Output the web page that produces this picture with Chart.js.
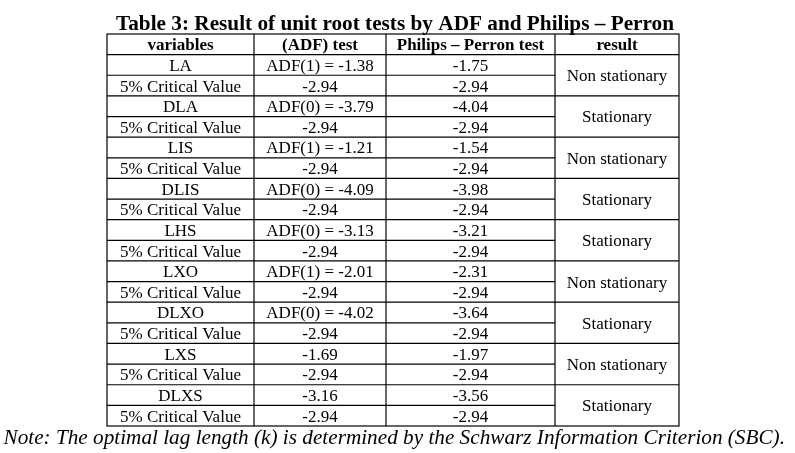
<!DOCTYPE html>
<html>
<head>
<meta charset="utf-8">
<script src="https://cdn.jsdelivr.net/npm/chart.js@4"></script>
<style>
  html, body { margin: 0; padding: 0; background: #fff; }
  canvas { display: block; }
</style>
</head>
<body>
<canvas id="unitRootChart" width="795" height="453"></canvas>
<script>
/**
 * Table 3 - unit root tests (ADF and Philips-Perron), drawn as a chart
 */

// table data
const headers = ['variables', '(ADF) test', 'Philips \u2013 Perron test', 'result'];
const variables = ['LA', 'DLA', 'LIS', 'DLIS', 'LHS', 'LXO', 'DLXO', 'LXS', 'DLXS'];
const adfLags = [1, 0, 1, 0, 0, 1, 0, null, null];
const adfValues = [-1.38, -3.79, -1.21, -4.09, -3.13, -2.01, -4.02, -1.69, -3.16];
const ppValues = [-1.75, -4.04, -1.54, -3.98, -3.21, -2.31, -3.64, -1.97, -3.56];
const criticalAdf = [-2.94, -2.94, -2.94, -2.94, -2.94, -2.94, -2.94, -2.94, -2.94];
const criticalPp = [-2.94, -2.94, -2.94, -2.94, -2.94, -2.94, -2.94, -2.94, -2.94];
const results = ['Non stationary', 'Stationary', 'Non stationary', 'Stationary', 'Stationary',
                 'Non stationary', 'Stationary', 'Non stationary', 'Stationary'];
const criticalLabel = '5% Critical Value';
const titleText = 'Table 3: Result of unit root tests by ADF and Philips \u2013 Perron';
const noteText = 'Note: The optimal lag length (k) is determined by the Schwarz Information Criterion (SBC).';

// layout (column edges in table units, rows are 1 unit each)
const colEdges = [0, 147, 279, 448, 572];
const rowCount = 1 + variables.length * 2;
const serif = '"Liberation Serif", "Times New Roman", serif';

function fmt(v) {
  return v.toFixed(2);
}

function adfText(i) {
  if (adfLags[i] === null) return fmt(adfValues[i]);
  return 'ADF(' + adfLags[i] + ') = ' + fmt(adfValues[i]);
}

// build the rows: [col0, col1, col2]
function buildRows() {
  const rows = [];
  variables.forEach(function (v, i) {
    rows.push([v, adfText(i), fmt(ppValues[i])]);
    rows.push([criticalLabel, fmt(criticalAdf[i]), fmt(criticalPp[i])]);
  });
  return rows;
}

function fitFont(ctx, style, text, width) {
  ctx.font = style + ' 20px ' + serif;
  const size = 20 * width / ctx.measureText(text).width;
  return style + ' ' + size.toFixed(2) + 'px ' + serif;
}

const tablePlugin = {
  id: 'tableDraw',
  afterDraw: function (chart) {
    const ctx = chart.ctx;
    const xs = chart.scales.x;
    const ys = chart.scales.y;
    const px = function (v) { return xs.getPixelForValue(v); };
    const py = function (v) { return ys.getPixelForValue(v); };
    const rows = buildRows();

    ctx.save();
    ctx.strokeStyle = '#000';
    ctx.lineWidth = 1.2;

    // outer border
    ctx.strokeRect(px(0), py(0), px(colEdges[4]) - px(0), py(rowCount) - py(0));

    // vertical lines
    for (let c = 1; c < colEdges.length - 1; c++) {
      ctx.beginPath();
      ctx.moveTo(px(colEdges[c]), py(0));
      ctx.lineTo(px(colEdges[c]), py(rowCount));
      ctx.stroke();
    }

    // horizontal lines (result column merges each pair of rows)
    for (let r = 1; r < rowCount; r++) {
      const right = (r % 2 === 1) ? colEdges[4] : colEdges[3];
      ctx.beginPath();
      ctx.moveTo(px(0), py(r));
      ctx.lineTo(px(right), py(r));
      ctx.stroke();
    }

    ctx.fillStyle = '#000';
    ctx.textAlign = 'center';
    ctx.textBaseline = 'middle';

    // header
    ctx.font = 'bold 17px ' + serif;
    headers.forEach(function (h, c) {
      const cx = px((colEdges[c] + colEdges[c + 1]) / 2);
      ctx.fillText(h, cx, py(0.5) + 1.5);
    });

    // body
    ctx.font = '17px ' + serif;
    rows.forEach(function (row, r) {
      row.forEach(function (cell, c) {
        const cx = px((colEdges[c] + colEdges[c + 1]) / 2);
        ctx.fillText(cell, cx, py(r + 1.5) + 1.5);
      });
    });

    // merged result cells
    results.forEach(function (res, i) {
      const cx = px((colEdges[3] + colEdges[4]) / 2);
      ctx.fillText(res, cx, py(2 + i * 2) + 1.5);
    });

    // title and note
    ctx.textBaseline = 'alphabetic';
    ctx.font = fitFont(ctx, 'bold', titleText, 558);
    ctx.fillText(titleText, 395, 30);

    ctx.textAlign = 'left';
    ctx.font = fitFont(ctx, 'italic', noteText, 782);
    ctx.fillText(noteText, 3.5, 444);
    ctx.restore();
  }
};

function createTableChart() {
  const tableCtx = document.getElementById('unitRootChart').getContext('2d');
  const tableChart = new Chart(tableCtx, {
    type: 'scatter',
    data: { datasets: [] },
    options: {
      responsive: false,
      animation: false,
      layout: {
        padding: { left: 107, right: 116, top: 34, bottom: 27 }
      },
      scales: {
        x: { type: 'linear', min: colEdges[0], max: colEdges[colEdges.length - 1], display: false },
        y: { type: 'linear', min: 0, max: rowCount, reverse: true, display: false }
      },
      plugins: {
        legend: { display: false },
        tooltip: { enabled: false }
      }
    },
    plugins: [tablePlugin]
  });

  return tableChart;
}

document.addEventListener('DOMContentLoaded', createTableChart);
</script>
</body>
</html>
